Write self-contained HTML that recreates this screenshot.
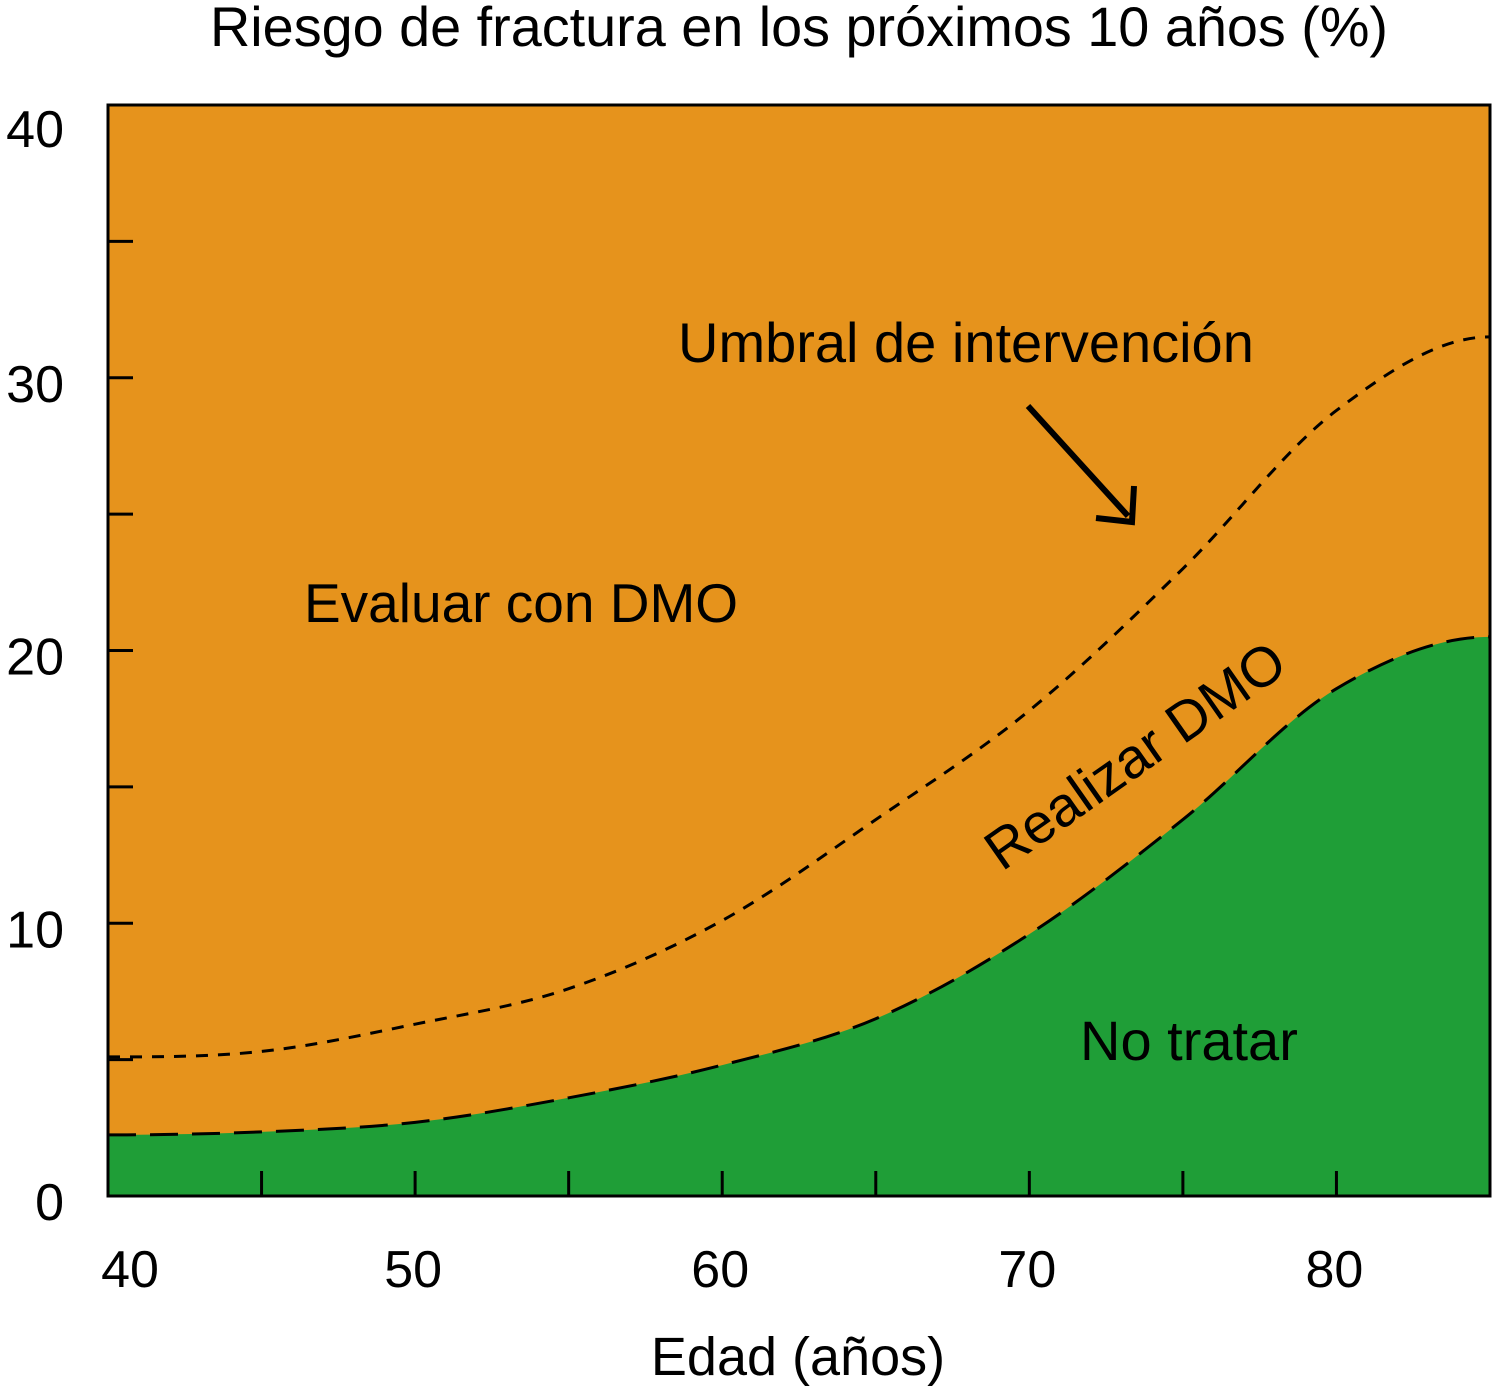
<!DOCTYPE html>
<html><head><meta charset="utf-8"><style>
html,body{margin:0;padding:0;background:#fff;}
svg{display:block;font-family:"Liberation Sans",sans-serif;}
</style></head><body>
<svg id="chart" width="1496" height="1390" viewBox="0 0 1496 1390">
<text x="799" y="46" font-size="56" text-anchor="middle" textLength="1178" lengthAdjust="spacingAndGlyphs">Riesgo de fractura en los próximos 10 años (%)</text>
<g id="plot"></g>
<text x="798" y="1375" font-size="54" text-anchor="middle">Edad (años)</text>
</svg>
<script>
const ages = [40,45,50,55,60,65,70,75,80,85];
const lowerThreshold = [2.24,2.35,2.7,3.6,4.8,6.5,9.6,13.8,18.6,20.5];
const upperAges = [40,45,50,55,60,65,70,75,80,85];
const interventionThreshold = [5.1,5.3,6.3,7.6,10.1,13.8,17.8,23,28.8,31.5];
const yTicks = [0,10,20,30,40];
const yMinorTicks = [5,15,25,35];
const xTicks = [40,50,60,70,80];
const xMinorTicks = [45,55,65,75];

const L=108,R=1490,T=105,B=1196;
const xs=v=>L+(v-40)/(85-40)*(R-L);
const ys=v=>B-v/40*(B-T);
const NS="http://www.w3.org/2000/svg";
const g=document.getElementById('plot');
function mk(tag,attrs){const e=document.createElementNS(NS,tag);for(const k in attrs)e.setAttribute(k,attrs[k]);g.appendChild(e);return e;}
function smooth(px,py){
  const p=px.map((x,i)=>[xs(x),ys(py[i])]);
  const n=p.length;
  let d=`M${p[0][0]},${p[0][1]}`;
  for(let i=0;i<n-1;i++){
    const p0=p[Math.max(0,i-1)],p1=p[i],p2=p[i+1],p3=p[Math.min(n-1,i+2)];
    let t1=(i===0)?[p2[0]-p1[0],0]:[(p2[0]-p0[0])/2,(p2[1]-p0[1])/2];
    let t2=(i+1===n-1)?[p2[0]-p1[0],0]:[(p3[0]-p1[0])/2,(p3[1]-p1[1])/2];
    const c1=[p1[0]+t1[0]/3,p1[1]+t1[1]/3];
    const c2=[p2[0]-t2[0]/3,p2[1]-t2[1]/3];
    d+=` C${c1[0]},${c1[1]} ${c2[0]},${c2[1]} ${p2[0]},${p2[1]}`;
  }
  return d;
}
let e;
e=mk('rect',{x:L,y:T,width:R-L,height:B-T,fill:'#E6931C'});


const low=smooth(ages,lowerThreshold);
e=mk('path',{d:low+` L${R},${B} L${L},${B} Z`,fill:'#1F9E37'});


e=mk('path',{d:low,fill:'none',stroke:'#000','stroke-width':3,'stroke-dasharray':'28 14'});


e=mk('path',{d:smooth(upperAges,interventionThreshold),fill:'none',stroke:'#000','stroke-width':3,'stroke-dasharray':'12 10'});


e=mk('rect',{x:L,y:T,width:R-L,height:B-T,fill:'none',stroke:'#000','stroke-width':3});


yTicks.forEach(v=>{
  e=mk('line',{x1:L,x2:L+25,y1:ys(v),y2:ys(v),stroke:'#000','stroke-width':3});
  
  
  e=mk('text',{x:64,y:v===40?ys(v)+42:ys(v)+24,'font-size':52,'text-anchor':'end'});e.textContent=v;
  
  
});
yMinorTicks.forEach(v=>{
  e=mk('line',{x1:L,x2:L+25,y1:ys(v),y2:ys(v),stroke:'#000','stroke-width':3});
  
  
});
xTicks.concat(xMinorTicks).forEach(v=>{
  e=mk('line',{x1:xs(v),x2:xs(v),y1:B,y2:B-25,stroke:'#000','stroke-width':3});
  
  
});
xTicks.forEach(v=>{
  e=mk('text',{x:v===40?130:xs(v)-2,y:1287,'font-size':52,'text-anchor':'middle'});e.textContent=v;
  
  
});
function label(txt,x,y,name,extra){e=mk('text',Object.assign({x:x,y:y,'font-size':56},extra||{}));e.textContent=txt;
  
  }
label('Umbral de intervención',678,362,'intervention-label');
label('Evaluar con DMO',304,622,'evaluate-label',{'font-size':55});
label('No tratar',1080,1060,'no-treat-label');
label('Realizar DMO',0,0,'perform-dmo-label',{transform:'translate(1002,872) rotate(-35)'});
e=mk('line',{x1:1028,y1:406,x2:1128,y2:516,stroke:'#000','stroke-width':6});


e=mk('polyline',{points:'1096,518 1132,522 1134,486',fill:'none',stroke:'#000','stroke-width':6});


</script>
</body></html>
